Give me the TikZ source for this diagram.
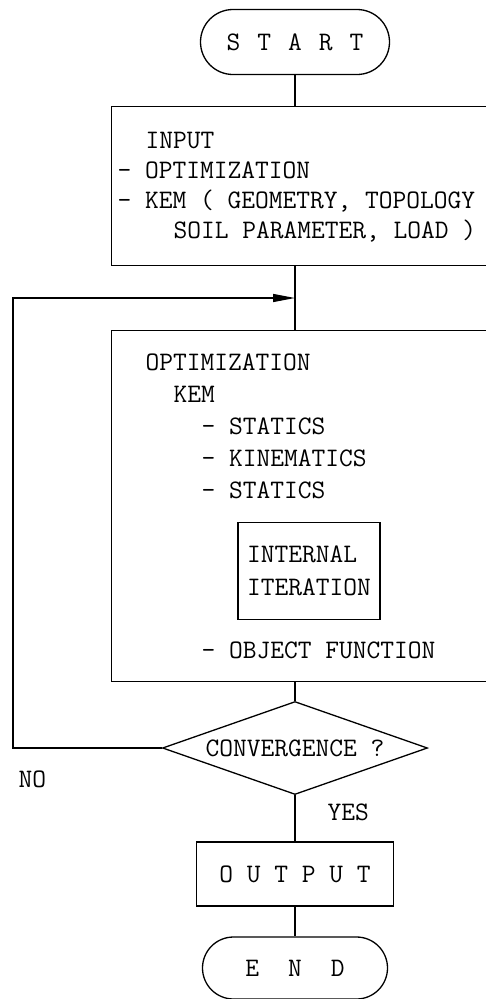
\documentclass[tikz,border=0pt]{standalone}
\usepackage{tikz}
\usetikzlibrary{arrows.meta,shapes.misc,shapes.geometric}

\begin{document}
\begin{tikzpicture}[x=1pt,y=-1pt,line width=1.3pt,
  >={Triangle[length=22pt,width=8pt]},
  every node/.style={font=\fontsize{26.7}{32}\selectfont\ttfamily},
  term/.style={draw,rounded rectangle,minimum width=189pt,minimum height=65pt,inner sep=0pt},
  box/.style={draw,rectangle,inner sep=0pt},
  cond/.style={draw,diamond,aspect=2.85,minimum width=265pt,minimum height=93pt,inner sep=0pt}]
  \useasboundingbox (0,0) rectangle (486,999);
  \clip (0,0) rectangle (486,999);

  \node[term] (start) at (295,42) {S\hspace{17pt}T\hspace{17pt}A\hspace{17pt}R\hspace{17pt}T};
  \node[box,anchor=north west,minimum width=390pt,minimum height=159pt] (input) at (111,106) {};
  \node[anchor=north west,align=left,inner sep=0pt,font=\fontsize{26.7}{30}\selectfont\ttfamily]
    (intext) at (117,132) {\hspace*{28pt}INPUT\\- OPTIMIZATION\\- KEM ( GEOMETRY, TOPOLOGY\\\hspace*{56pt}SOIL PARAMETER, LOAD )};

  \coordinate (join) at (295,298);
  \coordinate (corner) at (13,298);

  \node[box,anchor=north west,minimum width=390pt,minimum height=351pt] (optim) at (111,330) {};
  \node[anchor=north west,align=left,inner sep=0pt] (optext) at (145,353)
    {OPTIMIZATION\\\hspace*{28pt}KEM\\\hspace*{56pt}- STATICS\\\hspace*{56pt}- KINEMATICS\\\hspace*{56pt}- STATICS};
  \node[box,minimum width=142pt,minimum height=97pt,align=left,font=\fontsize{26.7}{33}\selectfont\ttfamily]
    (inner) at (309,571) {INTERNAL\\ITERATION};
  \node[anchor=base west,inner sep=0pt] (objfn) at (201,658) {- OBJECT FUNCTION};

  \node[cond] (conv) at (295,748) {CONVERGENCE ?};
  \node[anchor=base west,inner sep=0pt] (no) at (18,787) {NO};
  \node[anchor=base west,inner sep=0pt] (yes) at (327,820) {YES};

  \node[box,minimum width=197pt,minimum height=64pt] (output) at (295,874) {O U T P U T};
  \node[term,minimum width=185pt,minimum height=62pt] (end) at (295,968) {E\hspace{29pt}N\hspace{29pt}D};

  % connectors
  \draw (start.south) -- (start.south |- input.north);
  \draw (input.south -| join) -- (join) -- (join |- optim.north);
  \draw[->] (conv.west) -| (corner) -- (join);
  \draw (optim.south -| conv) -- (conv.north);
  \draw (conv.south) -- (output.north);
  \draw (output.south) -- (end.north);
\end{tikzpicture}
\end{document}
